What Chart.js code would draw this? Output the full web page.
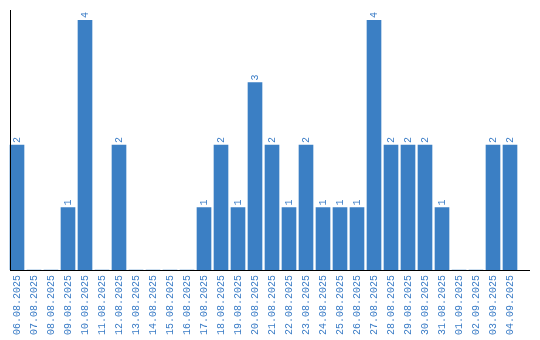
<!DOCTYPE html>
<html lang="en">
<head>
    <meta charset="UTF-8">
    <title>Daily count</title>
    <script src="https://cdn.jsdelivr.net/npm/chart.js"></script>
    <style>
        html, body { margin: 0; padding: 0; background: #fff; }
        #wrap { width: 540px; height: 340px; }
    </style>
</head>
<body>
<div id="wrap">
    <canvas id="myChart" width="540" height="340"></canvas>
</div>

<script>
    // dates on the x axis
    const days = [
        '06.08.2025', '07.08.2025', '08.08.2025', '09.08.2025', '10.08.2025',
        '11.08.2025', '12.08.2025', '13.08.2025', '14.08.2025', '15.08.2025',
        '16.08.2025', '17.08.2025', '18.08.2025', '19.08.2025', '20.08.2025',
        '21.08.2025', '22.08.2025', '23.08.2025', '24.08.2025', '25.08.2025',
        '26.08.2025', '27.08.2025', '28.08.2025', '29.08.2025', '30.08.2025',
        '31.08.2025', '01.09.2025', '02.09.2025', '03.09.2025', '04.09.2025'
    ];
    // count per day
    const counts = [
        2, 0, 0, 1, 4,
        0, 2, 0, 0, 0,
        0, 1, 2, 1, 3,
        2, 1, 2, 1, 1,
        1, 4, 2, 2, 2,
        1, 0, 0, 2, 2
    ];
    const yMax = 4;

    const blue = '#3b7fc4';
    const textBlue = '#3a7cc6';
    const font = 'Liberation Mono';

    // axis lines + numbers above the bars
    const extras = {
        id: 'extras',
        afterDatasetsDraw(chart) {
            const ctx = chart.ctx;
            const area = chart.chartArea;
            ctx.save();
            ctx.strokeStyle = '#000';
            ctx.lineWidth = 1;
            ctx.beginPath();
            ctx.moveTo(10.5, 10);
            ctx.lineTo(10.5, area.bottom);
            ctx.moveTo(10, area.bottom + 0.5);
            ctx.lineTo(530, area.bottom + 0.5);
            ctx.stroke();

            ctx.fillStyle = textBlue;
            ctx.font = '10px "' + font + '"';
            ctx.textAlign = 'left';
            ctx.textBaseline = 'middle';
            chart.getDatasetMeta(0).data.forEach((bar, i) => {
                if (!counts[i]) return;
                ctx.save();
                ctx.translate(bar.x, bar.y - 2);
                ctx.rotate(-Math.PI / 2);
                ctx.fillText(String(counts[i]), 0, 0);
                ctx.restore();
            });
            ctx.restore();
        }
    };

    var ctx = document.getElementById('myChart').getContext('2d');
    var myChart = new Chart(ctx, {
        type: 'bar',
        data: {
            labels: days,
            datasets: [{
                data: counts,
                backgroundColor: blue,
                barThickness: 14
            }]
        },
        options: {
            responsive: false,
            animation: false,
            layout: { padding: { left: 8.5, right: 21.5, top: 20, bottom: 0 } },
            plugins: { legend: { display: false }, tooltip: { enabled: false } },
            scales: {
                x: {
                    grid: { display: false, drawTicks: false },
                    border: { display: false },
                    ticks: {
                        color: textBlue,
                        font: { family: font, size: 10 },
                        maxRotation: 90,
                        minRotation: 90,
                        autoSkip: false,
                        padding: 5
                    },
                    afterFit(scale) { scale.height = 70; }
                },
                y: {
                    display: false,
                    min: 0,
                    max: yMax
                }
            }
        },
        plugins: [extras]
    });
</script>
</body>
</html>
